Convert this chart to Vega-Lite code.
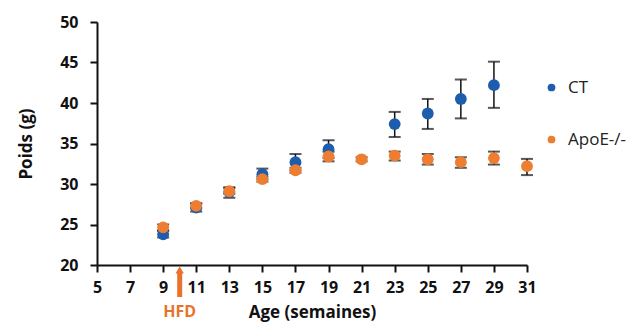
{
  "$schema": "https://vega.github.io/schema/vega-lite/v6.json",
  "width": 430,
  "height": 243,
  "autosize": {"type": "none"},
  "padding": {"left": 97, "top": 22, "right": 106, "bottom": 64},
  "background": "white",
  "config": {
    "view": {"stroke": null},
    "font": "Open Sans",
    "axis": {
      "grid": false,
      "domainColor": "#111",
      "domainWidth": 2,
      "tickColor": "#111",
      "tickWidth": 2,
      "tickSize": 7,
      "labelFont": "Open Sans",
      "labelFontWeight": "bold",
      "labelFontSize": 16,
      "labelColor": "#111",
      "labelOverlap": false,
      "titleFont": "Open Sans",
      "titleFontWeight": "bold",
      "titleFontSize": 17,
      "titleColor": "#111"
    },
    "axisX": {"labelOverlap": false, "labelSeparation": 0},
    "axisQuantitative": {"labelOverlap": false}
  },
  "encoding": {
    "x": {"field": "age", "type": "quantitative",
      "scale": {"domain": [5, 31], "nice": false},
      "axis": {"values": [5,7,9,11,13,15,17,19,21,23,25,27,29,31], "labelOverlap": false, "labelFlush": false, "title": "Age (semaines)", "labelPadding": 7, "titlePadding": 9}}
  },
  "layer": [
    {
      "data": {"name": "pts", "values": [
        {"group": "CT", "age": 9, "poids": 23.8, "lo": 23.4, "hi": 24.2},
        {"group": "CT", "age": 11, "poids": 27.1, "lo": 26.6, "hi": 27.6},
        {"group": "CT", "age": 13, "poids": 29.0, "lo": 28.3, "hi": 29.6},
        {"group": "CT", "age": 15, "poids": 31.2, "lo": 30.6, "hi": 31.9},
        {"group": "CT", "age": 17, "poids": 32.7, "lo": 31.7, "hi": 33.7},
        {"group": "CT", "age": 19, "poids": 34.3, "lo": 33.2, "hi": 35.4},
        {"group": "CT", "age": 23, "poids": 37.4, "lo": 35.8, "hi": 38.9},
        {"group": "CT", "age": 25, "poids": 38.7, "lo": 36.8, "hi": 40.5},
        {"group": "CT", "age": 27, "poids": 40.5, "lo": 38.1, "hi": 42.9},
        {"group": "CT", "age": 29, "poids": 42.2, "lo": 39.4, "hi": 45.1},
        {"group": "ApoE-/-", "age": 9, "poids": 24.65, "lo": 24.3, "hi": 25.0},
        {"group": "ApoE-/-", "age": 11, "poids": 27.3, "lo": 27.0, "hi": 27.6},
        {"group": "ApoE-/-", "age": 13, "poids": 29.1, "lo": 28.8, "hi": 29.5},
        {"group": "ApoE-/-", "age": 15, "poids": 30.6, "lo": 30.3, "hi": 30.9},
        {"group": "ApoE-/-", "age": 17, "poids": 31.7, "lo": 31.4, "hi": 32.0},
        {"group": "ApoE-/-", "age": 19, "poids": 33.4, "lo": 32.8, "hi": 34.0},
        {"group": "ApoE-/-", "age": 21, "poids": 33.05, "lo": 32.8, "hi": 33.3},
        {"group": "ApoE-/-", "age": 23, "poids": 33.5, "lo": 32.9, "hi": 34.0},
        {"group": "ApoE-/-", "age": 25, "poids": 33.05, "lo": 32.4, "hi": 33.7},
        {"group": "ApoE-/-", "age": 27, "poids": 32.7, "lo": 32.0, "hi": 33.3},
        {"group": "ApoE-/-", "age": 29, "poids": 33.2, "lo": 32.4, "hi": 34.0},
        {"group": "ApoE-/-", "age": 31, "poids": 32.2, "lo": 31.1, "hi": 33.1}
      ]},
      "layer": [
        {
          "mark": {"type": "errorbar", "color": "#111", "thickness": 1.5, "ticks": {"size": 12, "thickness": 2}},
          "encoding": {
            "y": {"field": "lo", "type": "quantitative",
              "scale": {"domain": [20, 50], "nice": false, "zero": false},
              "axis": {"values": [20,25,30,35,40,45,50], "labelOverlap": false, "title": "Poids (g)", "labelPadding": 12, "titlePadding": 24}},
            "y2": {"field": "hi"}
          }
        },
        {
          "mark": {"type": "point", "filled": true, "opacity": 1, "size": 140, "shape": "circle"},
          "encoding": {
            "y": {"field": "poids", "type": "quantitative"},
            "color": {"field": "group", "type": "nominal",
              "scale": {"domain": ["CT", "ApoE-/-"], "range": ["#1C5DAE", "#ED7D31"]},
              "legend": {"title": null, "orient": "none", "legendX": 446, "legendY": 57,
                "symbolSize": 60, "symbolType": "circle", "symbolStrokeWidth": 0,
                "labelFontSize": 17, "labelFont": "Open Sans", "labelColor": "#222", "labelOffset": 8,
                "rowPadding": 34}}
          }
        }
      ]
    },
    {
      "data": {"values": [{"age": 10, "y1": 19.1, "y2": 16.05, "ytri": 19.4, "ytext": 14.2, "label": "HFD"}]},
      "layer": [
        {
          "mark": {"type": "rule", "color": "#E8732C", "strokeWidth": 5},
          "encoding": {
            "y": {"field": "y1", "type": "quantitative"},
            "y2": {"field": "y2"}
          }
        },
        {
          "mark": {"type": "point", "shape": "triangle-up", "filled": true, "opacity": 1, "color": "#E8732C", "size": 70},
          "encoding": {
            "y": {"field": "ytri", "type": "quantitative"}
          }
        },
        {
          "mark": {"type": "text", "color": "#E8732C", "font": "Open Sans", "fontWeight": "bold", "fontSize": 16, "baseline": "middle", "align": "center"},
          "encoding": {
            "y": {"field": "ytext", "type": "quantitative"},
            "text": {"field": "label"}
          }
        }
      ]
    }
  ]
}
